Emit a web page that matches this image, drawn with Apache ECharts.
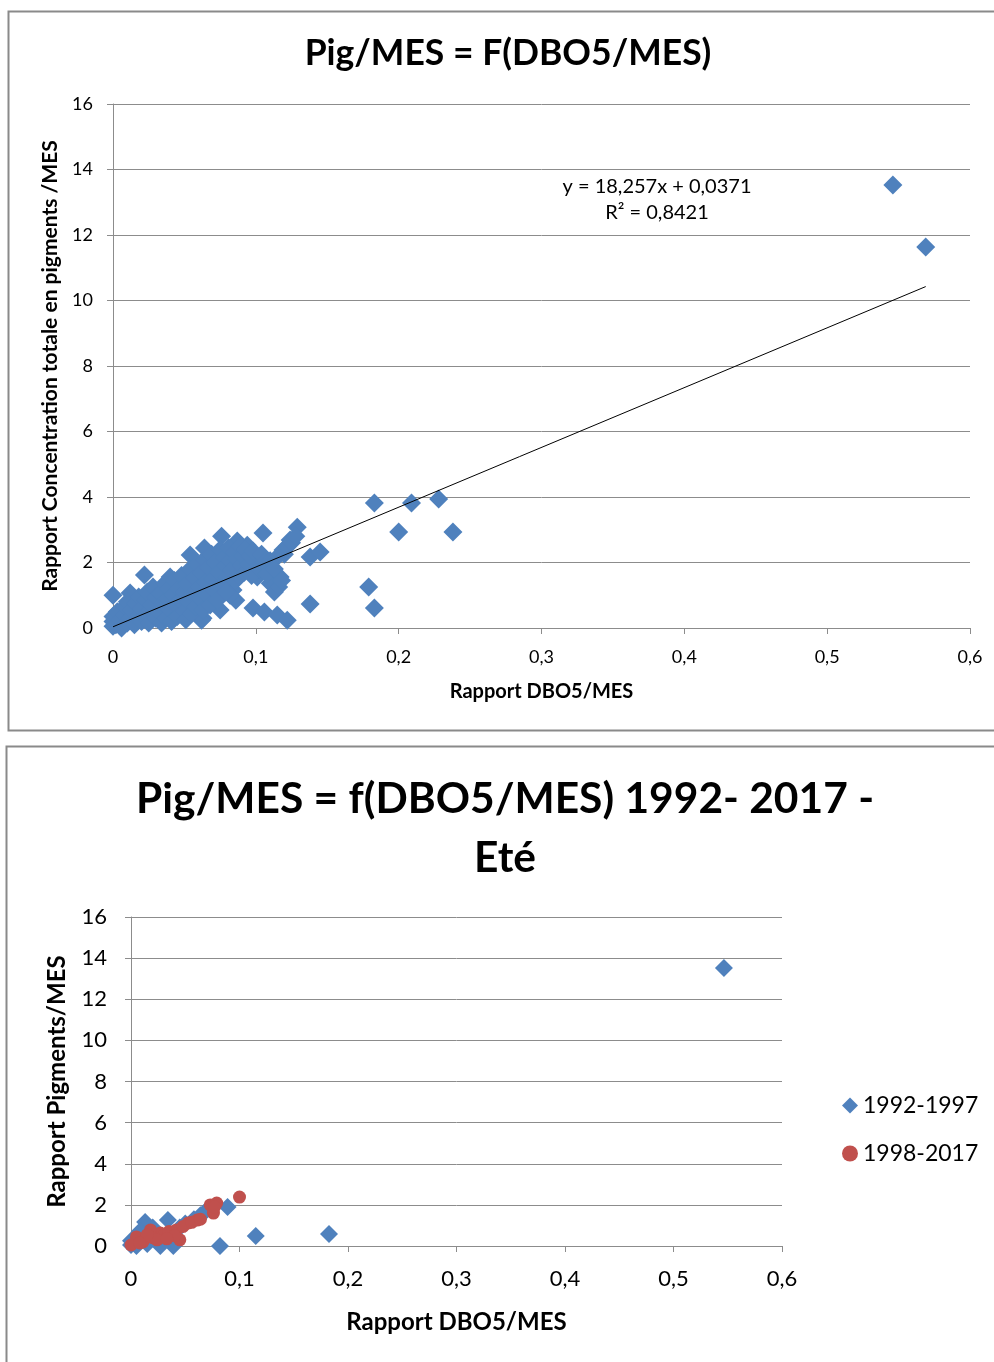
<!DOCTYPE html>
<html>
<head>
<meta charset="utf-8">
<script src="https://cdn.jsdelivr.net/npm/echarts@6/dist/echarts.min.js"></script>
<style>
  html, body { margin: 0; padding: 0; background: #fff; }
  #chart { width: 994px; height: 1362px; }
</style>
</head>
<body>
<div id="chart"></div>
<script>
// ---- Data ----
const xTicks = [0, 0.1, 0.2, 0.3, 0.4, 0.5, 0.6];
const yTicks = [0, 2, 4, 6, 8, 10, 12, 14, 16];

// Upper chart: all samples, Pig/MES vs DBO5/MES
const allSamples = [
  [0.546,13.53],[0.569,11.63],[0.183,3.82],[0.209,3.82],[0.228,3.94],[0.200,2.93],[0.238,2.93],
  [0.179,1.25],[0.183,0.61],[0.138,0.73],
  [0.000,1.00],[0.012,1.07],[0.022,1.62],[0.040,1.56],[0.054,2.23],[0.064,2.44],[0.076,2.80],
  [0.087,2.66],[0.094,2.53],[0.105,2.90],[0.129,3.08],[0.124,2.69],[0.119,2.38],[0.115,2.17],
  [0.138,2.17],[0.145,2.32],[0.101,1.98],[0.112,1.77],[0.117,1.56],[0.110,1.37],[0.113,1.10],
  [0.101,1.56],[0.077,1.37],[0.084,1.16],[0.086,0.85],[0.075,0.55],[0.063,0.30],[0.098,0.61],
  [0.106,0.49],[0.115,0.40],[0.122,0.24],[0.062,0.24],
  [0.000,0.05],[0.000,0.20],[0.000,0.35],[0.002,0.10],[0.003,0.50],[0.005,0.25],[0.006,0.00],
  [0.008,0.40],[0.008,0.65],[0.010,0.15],[0.010,0.80],
  [0.012,0.30],[0.013,0.55],[0.015,0.10],[0.016,0.75],[0.018,0.40],[0.018,0.95],[0.020,0.20],[0.020,0.60],
  [0.022,0.35],[0.023,0.85],[0.024,1.10],[0.025,0.15],[0.026,0.55],[0.027,0.70],[0.028,1.25],[0.030,0.30],[0.030,0.95],
  [0.032,0.50],[0.033,1.05],[0.034,0.15],[0.035,0.75],[0.036,1.35],[0.037,0.30],[0.038,0.90],[0.039,1.20],[0.040,0.55],
  [0.041,0.20],[0.042,1.00],[0.043,1.45],[0.044,0.70],[0.045,0.35],[0.046,1.20],[0.047,0.85],[0.048,1.60],[0.050,0.50],[0.050,1.10],
  [0.051,0.25],[0.052,1.35],[0.053,0.80],[0.054,1.80],[0.055,0.45],[0.056,1.05],[0.057,1.55],[0.058,0.65],[0.059,1.95],[0.060,1.25],
  [0.061,0.90],[0.062,1.70],[0.063,0.55],[0.064,2.10],[0.065,1.40],[0.066,1.00],[0.067,1.85],[0.068,0.70],[0.069,2.25],[0.070,1.50],
  [0.071,1.15],[0.072,2.00],[0.073,0.85],[0.074,1.70],[0.075,2.40],[0.076,1.30],[0.078,2.15],[0.079,1.90],[0.080,1.55],
  [0.081,2.45],[0.082,2.05],[0.083,1.75],[0.085,2.30],[0.086,1.45],[0.087,2.10],[0.088,1.60],[0.089,2.50],[0.090,1.90],
  [0.091,2.20],[0.092,1.70],[0.093,2.40],[0.095,1.95],[0.096,2.20],[0.097,1.60],[0.098,2.35],
  [0.102,1.80],[0.104,2.25],[0.106,2.00],[0.108,1.65],[0.110,2.05],[0.113,1.80],[0.116,1.25],[0.118,1.45],
  [0.120,2.25],[0.122,2.50],[0.125,2.60],[0.128,2.80],[0.082,1.00],[0.079,1.10]
];

// Linear fit shown on the upper chart
const fitSlope = 18.257;
const fitIntercept = 0.0371;
const fitXRange = [0, 0.569];
const fitLabel = ['y = 18,257x + 0,0371', 'R² = 0,8421'];

// Lower chart: summer samples by period
const seriesNames = ['1992-1997', '1998-2017'];
const summer9297 = [
  [0.5465,13.52],[0.1825,0.58],[0.115,0.49],[0.082,0.00],[0.089,1.90],
  [0.013,1.17],[0.034,1.26],[0.039,0.00],[0.027,0.00],[0.000,0.05],[0.000,0.25],
  [0.064,1.50],[0.068,1.65],[0.008,0.70],[0.020,0.90],[0.030,0.40],[0.045,0.90],
  [0.050,1.10],[0.058,1.30],[0.015,0.10],[0.005,0.00],[0.022,0.55],[0.040,0.20]
];
const summer9817 = [
  [0.100,2.38],[0.073,2.00],[0.079,2.09],[0.076,1.60],[0.077,1.90],[0.061,1.26],[0.053,1.12],
  [0.042,0.78],[0.045,0.30],[0.027,0.63],[0.018,0.78],[0.005,0.44],[0.000,0.05],[0.011,0.20],
  [0.020,0.40],[0.030,0.50],[0.035,0.70],[0.048,0.95],[0.040,0.50],[0.024,0.30],[0.015,0.55],
  [0.008,0.15],[0.033,0.35],[0.056,1.15],[0.064,1.30]
];

// ---- Styles ----
const BLUE = '#4F81BD';
const RED = '#C0504D';
const GRID_GRAY = '#8c8c8c';
const FONT = 'Lato, "Open Sans", sans-serif';

const fmt = v => String(v).replace('.', ',');

function xAxisCfg(gridIndex, fontSize, margin, nameSize, nameGap) {
  return {
    gridIndex, type: 'value', min: 0, max: 0.6, interval: 0.1,
    name: 'Rapport DBO5/MES', nameLocation: 'middle', nameGap,
    nameTextStyle: { fontFamily: FONT, fontWeight: 'bold', fontSize: nameSize, color: '#000' },
    axisLine: { show: true, lineStyle: { color: GRID_GRAY, width: 1 } },
    axisTick: { show: true, length: 6, lineStyle: { color: GRID_GRAY } },
    splitLine: { show: false },
    axisLabel: { fontFamily: FONT, fontSize, color: '#000', margin, formatter: fmt }
  };
}
function yAxisCfg(gridIndex, name, fontSize, margin, nameSize, nameGap) {
  return {
    gridIndex, type: 'value', min: 0, max: 16, interval: 2,
    name, nameLocation: 'middle', nameGap,
    nameTextStyle: { fontFamily: FONT, fontWeight: 'bold', fontSize: nameSize, color: '#000' },
    axisLine: { show: true, lineStyle: { color: GRID_GRAY, width: 1 } },
    axisTick: { show: true, length: 6, lineStyle: { color: GRID_GRAY } },
    splitLine: { show: true, lineStyle: { color: GRID_GRAY, width: 1 } },
    axisLabel: { fontFamily: FONT, fontSize, color: '#000', margin, formatter: fmt }
  };
}

const chart = echarts.init(document.getElementById('chart'), null, { renderer: 'canvas' });

chart.setOption({
  animation: false,
  backgroundColor: '#fff',
  title: [
    { text: 'Pig/MES = F(DBO5/MES)', left: 503, textAlign: 'center', top: 31,
      textStyle: { fontFamily: FONT, fontWeight: 'bold', fontSize: 35.5, color: '#000' } },
    { text: 'Pig/MES = f(DBO5/MES) 1992- 2017 -\nEté', left: 500, textAlign: 'center', top: 765,
      textStyle: { fontFamily: FONT, fontWeight: 'bold', fontSize: 42.5, lineHeight: 59, color: '#000' } }
  ],
  graphic: [
    { type: 'rect', shape: { x: 8.5, y: 11.5, width: 1000, height: 719 },
      style: { fill: 'none', stroke: '#8a8a8a', lineWidth: 2 }, z: -1 },
    { type: 'rect', shape: { x: 6.5, y: 746.5, width: 1000, height: 640 },
      style: { fill: 'none', stroke: '#8a8a8a', lineWidth: 2 }, z: -1 },
    { type: 'text', x: 657, y: 187,
      style: { text: fitLabel[0], fontFamily: FONT, fontSize: 20, fill: '#000',
               align: 'center', verticalAlign: 'middle' } },
    { type: 'text', x: 657, y: 213,
      style: { text: fitLabel[1], fontFamily: FONT, fontSize: 20, fill: '#000',
               align: 'center', verticalAlign: 'middle' } }
  ],
  legend: {
    data: seriesNames.map((n, i) => ({ name: n, icon: i === 0 ? 'diamond' : 'circle' })),
    orient: 'vertical', left: 837, top: 1089, itemWidth: 16, itemHeight: 16, itemGap: 25,
    textStyle: { fontFamily: FONT, fontSize: 23, color: '#000' }
  },
  grid: [
    { left: 113, top: 104, width: 857, height: 524 },
    { left: 131, top: 917, width: 651, height: 329 }
  ],
  xAxis: [
    xAxisCfg(0, 18, 20, 20, 54),
    xAxisCfg(1, 22, 22, 24, 64)
  ],
  yAxis: [
    yAxisCfg(0, 'Rapport Concentration totale en pigments /MES', 18, 20, 21, 52),
    yAxisCfg(1, 'Rapport Pigments/MES', 22, 24, 24, 62)
  ],
  series: [
    { name: 'all', type: 'scatter', xAxisIndex: 0, yAxisIndex: 0,
      symbol: 'diamond', symbolSize: 19, itemStyle: { color: BLUE, opacity: 1 },
      data: allSamples, z: 2 },
    { name: 'fit', type: 'line', xAxisIndex: 0, yAxisIndex: 0, showSymbol: false, symbol: 'none',
      lineStyle: { color: '#000', width: 1 },
      data: fitXRange.map(x => [x, fitSlope * x + fitIntercept]), z: 3 },
    { name: seriesNames[0], type: 'scatter', xAxisIndex: 1, yAxisIndex: 1,
      symbol: 'diamond', symbolSize: 18, itemStyle: { color: BLUE, opacity: 1 },
      data: summer9297, z: 2 },
    { name: seriesNames[1], type: 'scatter', xAxisIndex: 1, yAxisIndex: 1,
      symbol: 'circle', symbolSize: 13, itemStyle: { color: RED, opacity: 1 },
      data: summer9817, z: 3 }
  ]
});
</script>
</body>
</html>
